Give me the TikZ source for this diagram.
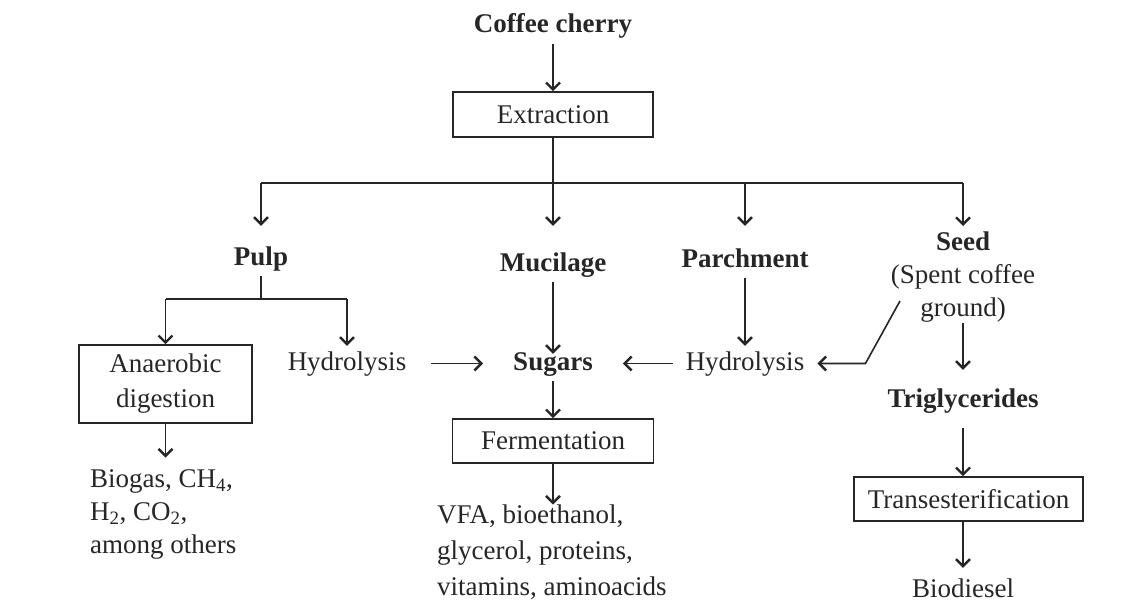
\documentclass[tikz,border=0pt]{standalone}
\usepackage{fontspec}
\setmainfont{Liberation Serif}
\usetikzlibrary{arrows.meta}
\definecolor{ink}{HTML}{262626}

\begin{document}
\begin{tikzpicture}[x=1pt,y=-1pt,
  every node/.style={font=\fontsize{27}{34}\selectfont, text=ink},
  lbl/.style={anchor=base, inner sep=5pt, text height=19pt, text depth=6pt},
  stage/.style={lbl, font=\fontsize{27}{34}\selectfont\bfseries},
  box/.style={draw=ink, line width=1.6pt, inner sep=0pt, align=center},
  arr/.style={draw=ink, line width=1.6pt, -{Straight Barb[length=7pt,width=14pt,line width=2.4pt]}},
  ln/.style={draw=ink, line width=1.6pt}]
  \useasboundingbox (0,0) rectangle (1140,602);

  % top of the tree
  \node[stage] (cherry) at (553,33) {Coffee cherry};
  \node[box, minimum width=200pt, minimum height=45pt] (extract) at (553,114.5) {Extraction};
  \coordinate (split) at (553,183);

  % fractions
  \node[stage] (pulp) at (261,265) {Pulp};
  \node[stage] (mucilage) at (553,271) {Mucilage};
  \node[stage] (parch) at (745,267) {Parchment};
  \node[align=center, anchor=north, inner sep=0pt, font=\fontsize{27}{33}\selectfont] (seed) at (963,232)
    {\textbf{Seed}\\(Spent coffee\\ground)};

  % pulp branch
  \coordinate (pulpsplit) at (261,299);
  \node[box, minimum width=173pt, minimum height=78pt, font=\fontsize{27}{35}\selectfont] (anaer) at (165.5,384)
    {Anaerobic\\digestion};
  \node[align=left, anchor=north west, inner sep=0pt, font=\fontsize{27}{33}\selectfont] (biogas) at (90,469.6)
    {Biogas, CH\textsubscript{4},\\H\textsubscript{2}, CO\textsubscript{2},\\among others};
  \node[lbl, inner xsep=25pt] (hyd1) at (347,370) {Hydrolysis};

  % sugars
  \node[stage, inner xsep=30pt] (sugars) at (553,370) {Sugars};
  \node[lbl, inner xsep=13pt] (hyd2) at (745,370) {Hydrolysis};
  \node[box, minimum width=201pt, minimum height=44pt] (ferm) at (553,441) {Fermentation};
  \node[align=left, anchor=north west, inner sep=0pt, font=\fontsize{27}{36}\selectfont] (vfa) at (437,504.6)
    {VFA, bioethanol,\\glycerol, proteins,\\vitamins, aminoacids};

  % seed branch
  \node[stage] (trig) at (963,407) {Triglycerides};
  \node[box, minimum width=229pt, minimum height=44pt] (trans) at (968.5,499) {Transesterification};
  \node[lbl] (biodiesel) at (963,597) {Biodiesel};

  % connectors
  \draw[arr] (cherry) -- (extract);
  \draw[ln] (extract) -- (split);
  \draw[ln] (split -| pulp) -- (split -| seed);
  \draw[arr, shorten >=15pt] (split -| pulp) -- (pulp);
  \draw[arr, shorten >=21pt] (split) -- (mucilage);
  \draw[arr, shorten >=17pt] (split -| parch) -- (parch);
  \draw[arr, shorten >=6pt] (split -| seed) -- (seed);

  \draw[ln] (pulp) -- (pulpsplit);
  \draw[ln] (pulpsplit -| anaer) -- (pulpsplit -| hyd1);
  \draw[arr] (pulpsplit -| anaer) -- (anaer);
  \draw[arr] (pulpsplit -| hyd1) -- (hyd1);
  \draw[arr, shorten >=12pt] (anaer.south) -- (anaer.south |- biogas.north);

  \draw[arr] (hyd1) -- (sugars);
  \draw[arr] (hyd2) -- (sugars);
  \draw[arr, shorten >=-8pt] (mucilage) -- (sugars);
  \draw[arr] (parch) -- (hyd2);
  \draw[arr] (sugars) -- (ferm);
  \draw[arr] (ferm.south) -- (ferm.south |- vfa.north);

  \draw[arr] ([shift={(-63,-22)}]seed.south) -- ([xshift=48pt]hyd2.east) -- (hyd2.east);
  \draw[arr, shorten >=13pt] (seed) -- (trig);
  \draw[arr, shorten <=10pt] (trig) -- (trig |- trans.north);
  \draw[arr, shorten >=5pt] (trans.south -| trig) -- (biodiesel);
\end{tikzpicture}
\end{document}
